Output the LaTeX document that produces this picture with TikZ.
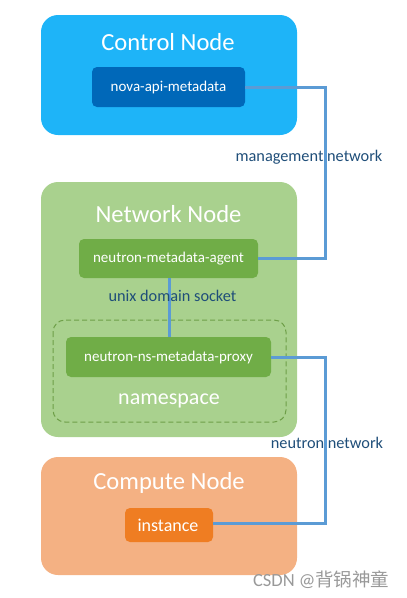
\documentclass[tikz,border=0pt]{standalone}
\usepackage{fontspec}
\setmainfont{Carlito}
\newfontfamily\cjk{Noto Sans CJK SC}
\definecolor{ctrlbg}{HTML}{1EB4F8}
\definecolor{ctrlin}{HTML}{0068B9}
\definecolor{netbg}{HTML}{A9D18E}
\definecolor{netin}{HTML}{70AD47}
\definecolor{nsdash}{HTML}{6E9F48}
\definecolor{compbg}{HTML}{F4B183}
\definecolor{compin}{HTML}{EF7D22}
\definecolor{linkc}{HTML}{5B9BD5}
\definecolor{lblc}{HTML}{1F4E79}
\tikzset{
  x=1pt, y=-1pt,
  hostbox/.style={rounded corners=17pt, draw=none},
  svcbox/.style={rounded corners=5pt, draw=none, text=white, font=\fontsize{15}{17}\selectfont},
  hosttitle/.style={text=white, font=\fontsize{24.6}{28}\selectfont},
  link/.style={draw=linkc, line width=3pt},
  lbl/.style={text=lblc, font=\fontsize{16.3}{18}\selectfont},
}
\begin{document}
\begin{tikzpicture}
\useasboundingbox (0,0) rectangle (407,598);
% Control node
\path[hostbox, fill=ctrlbg] (41,15) rectangle (297,135);
\node[hosttitle] (ctitle) at (168,42) {Control Node};
\path[svcbox, fill=ctrlin] (92,67) rectangle (245,107);
\node[svcbox] (nova) at (168.5,87) {nova-api-metadata};
\coordinate (novaR) at (245,87);
% Network node
\path[hostbox, fill=netbg] (41,182) rectangle (297,437);
\node[hosttitle] (ntitle) at (168.5,214) {Network Node};
\path[svcbox, fill=netin] (79,239) rectangle (258,278);
\node[svcbox] (agent) at (168.5,258.5) {neutron-metadata-agent};
\coordinate (agentR) at (258,258.5);
\coordinate (agentB) at (169,278);
\draw[nsdash, dash pattern=on 5pt off 3pt, line width=1pt, rounded corners=12pt] (53,320) rectangle (286,422);
\path[svcbox, fill=netin] (66,337) rectangle (271,377);
\node[svcbox] (proxy) at (168.5,357) {neutron-ns-metadata-proxy};
\coordinate (proxyR) at (271,357);
\coordinate (proxyT) at (169,337);
\node[text=white, font=\fontsize{22}{26}\selectfont] (ns) at (169,401) {namespace};
% Compute node
\path[hostbox, fill=compbg] (41,457) rectangle (297,575);
\node[hosttitle] (ptitle) at (169,483) {Compute Node};
\path[svcbox, fill=compin] (125,508) rectangle (213,542);
\node[svcbox, font=\fontsize{18}{20}\selectfont] (inst) at (168,525) {instance};
\coordinate (instR) at (213,523);
% links
\coordinate (m1) at (325,87);
\coordinate (m2) at (325,258.5);
\draw[link] (novaR) -- (m1) -- (m2) -- (agentR);
\draw[link] (agentB) -- (proxyT);
\coordinate (n1) at (325,357);
\coordinate (n2) at (325,523);
\draw[link] (proxyR) -- (n1) -- (n2) -- (instR);
% labels
\node[lbl] (mgmt) at (309,157) {management network};
\node[lbl] (uds) at (172.5,296) {unix domain socket};
\node[lbl] (neut) at (327,443) {neutron network};
% watermark
\node[text=black!40, font=\fontsize{18.5}{20}\selectfont, anchor=east] (wm) at (393,580) {CSDN @{\cjk 背锅神童}};
\end{tikzpicture}
\end{document}
